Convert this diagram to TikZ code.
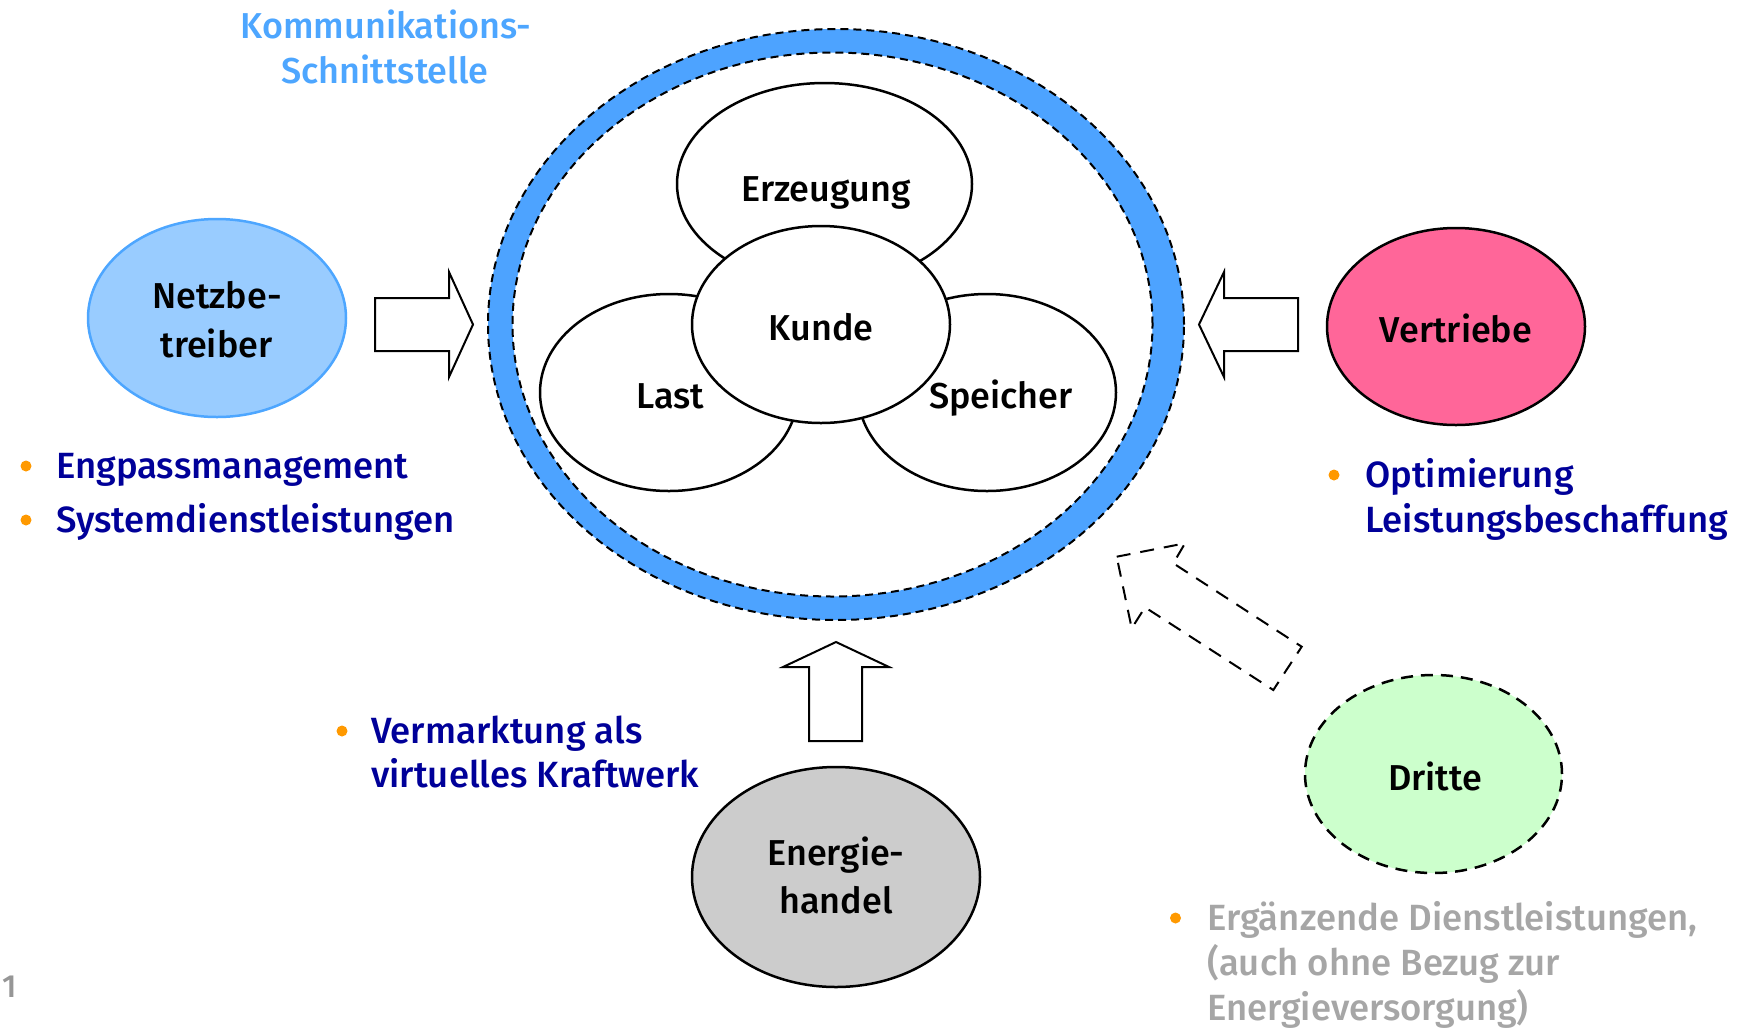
\documentclass[tikz,border=0pt]{standalone}
\usepackage{fontspec}
\IfFontExistsTF{Fira Sans Medium}{\setmainfont{Fira Sans Medium}}{\setmainfont{Fira Sans}[UprightFeatures={FakeBold=0.6}]}
\usetikzlibrary{shapes.geometric}
\definecolor{ringblue}{RGB}{77,163,255}
\definecolor{kblue}{RGB}{77,166,255}
\definecolor{netzfill}{RGB}{153,204,255}
\definecolor{netzline}{RGB}{77,166,255}
\definecolor{vpink}{RGB}{255,102,153}
\definecolor{lgreen}{RGB}{204,255,204}
\definecolor{lgray}{RGB}{204,204,204}
\definecolor{dblue}{RGB}{0,0,153}
\definecolor{orangeb}{RGB}{255,153,0}
\definecolor{txtgray}{RGB}{166,166,166}
\definecolor{numgray}{RGB}{150,150,150}
\begin{document}
\begin{tikzpicture}[x=1pt,y=-1pt,
  ell/.style={ellipse, draw=black, line width=2.5pt, inner sep=0pt, fill=white},
  lbl/.style={font=\fontsize{36}{40}\selectfont, text=black, inner sep=0pt, anchor=base},
  ktxt/.style={font=\fontsize{36}{40}\selectfont, text=kblue, inner sep=0pt, anchor=base},
  btxt/.style={font=\fontsize{36.5}{40}\selectfont, text=dblue, inner sep=0pt, anchor=base west},
  gtxt/.style={font=\fontsize{36.5}{40}\selectfont, text=txtgray, inner sep=0pt, anchor=base west},
  bul/.style={circle, fill=orangeb, inner sep=0pt, minimum size=11pt},
  blockarrow/.style={draw=black, line width=2pt, fill=white, line join=miter},
  ringdash/.style={draw=black, line width=2pt, dash pattern=on 8pt off 5pt},
]
\useasboundingbox[fill=white] (0,0) rectangle (1740,1029);

% communication ring
\fill[ringblue, even odd rule] (836,324.5) ellipse [x radius=348pt, y radius=295.5pt]
      (832.5,324.5) ellipse [x radius=320pt, y radius=272pt];
\draw[ringdash] (836,324.5) ellipse [x radius=348pt, y radius=295.5pt];
\draw[ringdash] (832.5,324.5) ellipse [x radius=320pt, y radius=272pt];

% inner ellipses
\node[ell, minimum width=295pt, minimum height=202pt] (erz) at (824.5,184) {};
\node[ell, minimum width=258pt, minimum height=197pt] (last) at (669,392.5) {};
\node[ell, minimum width=258pt, minimum height=197pt] (spei) at (987,392.5) {};
\node[ell, minimum width=258pt, minimum height=197pt] (kunde) at (821,324.5) {};

\node[lbl] (terz) at (826,201) {Erzeugung};
\node[lbl] (tkunde) at (821,340) {Kunde};
\node[lbl] (tlast) at (670,408) {Last};
\node[lbl] (tspei) at (1001,408) {Speicher};

% outer actors
\node[ell, draw=netzline, fill=netzfill, minimum width=258pt, minimum height=198pt] (netz) at (217,318) {};
\node[lbl] (tnetz1) at (217,308) {Netzbe-};
\node[lbl] (tnetz2) at (216.5,357) {treiber};

\node[ell, fill=vpink, minimum width=258pt, minimum height=197pt] (vert) at (1456,326.5) {};
\node[lbl] (tvert) at (1456,342) {Vertriebe};

\node[ell, fill=lgray, minimum width=288pt, minimum height=220pt] (handel) at (836,877) {};
\node[lbl] (thandel1) at (836,865) {Energie-};
\node[lbl] (thandel2) at (836,913) {handel};

\node[ell, fill=lgreen, dash pattern=on 12pt off 8pt, minimum width=257pt, minimum height=198pt] (dritte) at (1433.5,774) {};
\node[lbl] (tdritte) at (1435,790) {Dritte};

% block arrows
\draw[blockarrow] (375,298) -- (449,298) -- (449,272) -- (473,324.5) -- (449,377) -- (449,351) -- (375,351) -- cycle;
\draw[blockarrow] (1298,298) -- (1224,298) -- (1224,272) -- (1199,324.5) -- (1224,377) -- (1224,351) -- (1298,351) -- cycle;
\draw[blockarrow] (809,741) -- (809,667) -- (783,667) -- (836,642) -- (889,667) -- (862,667) -- (862,741) -- cycle;
\draw[blockarrow, dash pattern=on 14pt off 10pt] (1116.7,556.7) -- (1185,543.3) -- (1173.3,563.3) -- (1301.7,646.7) -- (1273.3,690) -- (1145,607.3) -- (1131.7,628.3) -- cycle;

% texts
\node[ktxt] (kom1) at (386,38) {Kommunikations-};
\node[ktxt] (kom2) at (385,83) {Schnittstelle};

\node[bul] (b1) at (26,466) {};
\node[btxt] (t1) at (56,478) {Engpassmanagement};
\node[bul] (b2) at (26,520) {};
\node[btxt] (t2) at (56,532) {Systemdienstleistungen};

\node[bul] (b3) at (1334,475) {};
\node[btxt] (t3a) at (1365,487) {Optimierung};
\node[btxt] (t3b) at (1365,532) {Leistungsbeschaffung};

\node[bul] (b4) at (342,731) {};
\node[btxt] (t4a) at (371,743) {Vermarktung als};
\node[btxt] (t4b) at (371,787) {virtuelles Kraftwerk};

\node[bul] (b5) at (1175.5,918) {};
\node[gtxt] (t5a) at (1207,930) {Ergänzende Dienstleistungen,};
\node[gtxt] (t5b) at (1207,975) {(auch ohne Bezug zur};
\node[gtxt] (t5c) at (1207,1020) {Energieversorgung)};

\node[font=\fontsize{32}{36}\selectfont, text=numgray, inner sep=0pt, anchor=base west] (pnum) at (2,997) {1};
\end{tikzpicture}
\end{document}
